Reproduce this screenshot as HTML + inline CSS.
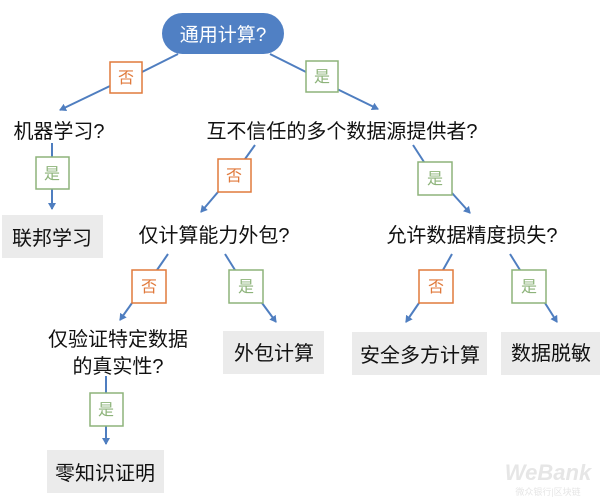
<!DOCTYPE html>
<html><head><meta charset="utf-8"><style>
html,body{margin:0;padding:0;background:#fff;}
svg{display:block;}
text{font-family:"Liberation Sans","Noto Sans CJK SC",sans-serif;}
</style></head><body>
<svg width="600" height="503" viewBox="0 0 600 503" xmlns="http://www.w3.org/2000/svg">
<defs>
<marker id="a" markerWidth="8" markerHeight="8" refX="6" refY="4" orient="auto" markerUnits="userSpaceOnUse">
<path d="M0,0 L7,4 L0,8 Z" fill="#4f7ec0"/></marker>
</defs>
<g stroke="#4f7ec0" stroke-width="2" fill="none">
<line x1="178" y1="54" x2="142" y2="72"/>
<line x1="110" y1="86" x2="60" y2="110" marker-end="url(#a)"/>
<line x1="270" y1="54" x2="306" y2="72"/>
<line x1="337" y1="89" x2="378" y2="109" marker-end="url(#a)"/>
<line x1="52" y1="143" x2="52" y2="157"/>
<line x1="52" y1="189" x2="52" y2="209" marker-end="url(#a)"/>
<line x1="255" y1="145" x2="245" y2="159"/>
<line x1="218" y1="192" x2="201" y2="212" marker-end="url(#a)"/>
<line x1="413" y1="145" x2="424" y2="162"/>
<line x1="452" y1="193" x2="470" y2="213" marker-end="url(#a)"/>
<line x1="168" y1="254" x2="157" y2="270"/>
<line x1="132" y1="303" x2="120" y2="320" marker-end="url(#a)"/>
<line x1="225" y1="254" x2="235" y2="270"/>
<line x1="262" y1="303" x2="276" y2="322" marker-end="url(#a)"/>
<line x1="452" y1="254" x2="443" y2="270"/>
<line x1="419" y1="303" x2="406" y2="322" marker-end="url(#a)"/>
<line x1="510" y1="254" x2="520" y2="270"/>
<line x1="545" y1="303" x2="557" y2="322" marker-end="url(#a)"/>
<line x1="106" y1="376" x2="106" y2="393"/>
<line x1="106" y1="426" x2="106" y2="444" marker-end="url(#a)"/>
</g>
<rect x="162" y="13" width="122" height="41" rx="20.5" fill="#5080c4"/>
<text x="223" y="41" font-size="19" fill="#fff" text-anchor="middle">通用计算?</text>
<g fill="#fff" stroke-width="1.5">
<rect x="110" y="62" width="32" height="31" stroke="#e07a3c"/>
<rect x="306" y="61" width="32" height="31" stroke="#8db37a"/>
<rect x="36" y="157" width="33" height="32" stroke="#8db37a"/>
<rect x="218" y="159" width="33" height="33" stroke="#e07a3c"/>
<rect x="418" y="162" width="34" height="33" stroke="#8db37a"/>
<rect x="132" y="270" width="34" height="33" stroke="#e07a3c"/>
<rect x="229" y="270" width="34" height="33" stroke="#8db37a"/>
<rect x="419" y="270" width="34" height="33" stroke="#e07a3c"/>
<rect x="512" y="270" width="34" height="33" stroke="#8db37a"/>
<rect x="90" y="393" width="33" height="33" stroke="#8db37a"/>
</g>
<g font-size="16" text-anchor="middle">
<text x="126" y="83" fill="#e07a3c">否</text>
<text x="322" y="82" fill="#8db37a">是</text>
<text x="52" y="179" fill="#8db37a">是</text>
<text x="234" y="181" fill="#e07a3c">否</text>
<text x="435" y="184" fill="#8db37a">是</text>
<text x="149" y="292" fill="#e07a3c">否</text>
<text x="246" y="292" fill="#8db37a">是</text>
<text x="436" y="292" fill="#e07a3c">否</text>
<text x="529" y="292" fill="#8db37a">是</text>
<text x="106" y="415" fill="#8db37a">是</text>
</g>
<g fill="#ebebeb">
<rect x="2" y="215" width="101" height="43"/>
<rect x="223" y="331" width="101" height="43"/>
<rect x="352" y="332" width="135" height="43"/>
<rect x="501" y="332" width="99" height="43"/>
<rect x="47" y="450" width="117" height="43"/>
</g>
<g font-size="20" fill="#111" text-anchor="middle">
<text x="59" y="138">机器学习?</text>
<text x="342" y="138">互不信任的多个数据源提供者?</text>
<text x="52" y="245">联邦学习</text>
<text x="214" y="242">仅计算能力外包?</text>
<text x="472" y="242">允许数据精度损失?</text>
<text x="118" y="346">仅验证特定数据</text>
<text x="118" y="373">的真实性?</text>
<text x="274" y="360">外包计算</text>
<text x="420" y="362">安全多方计算</text>
<text x="551" y="360">数据脱敏</text>
<text x="105" y="480">零知识证明</text>
</g>
<text x="548" y="480" font-size="22" font-style="italic" font-weight="bold" fill="#e6e6e6" text-anchor="middle">WeBank</text>
<text x="548" y="495" font-size="9" fill="#e6e6e6" text-anchor="middle">微众银行|区块链</text>
</svg>
</body></html>
